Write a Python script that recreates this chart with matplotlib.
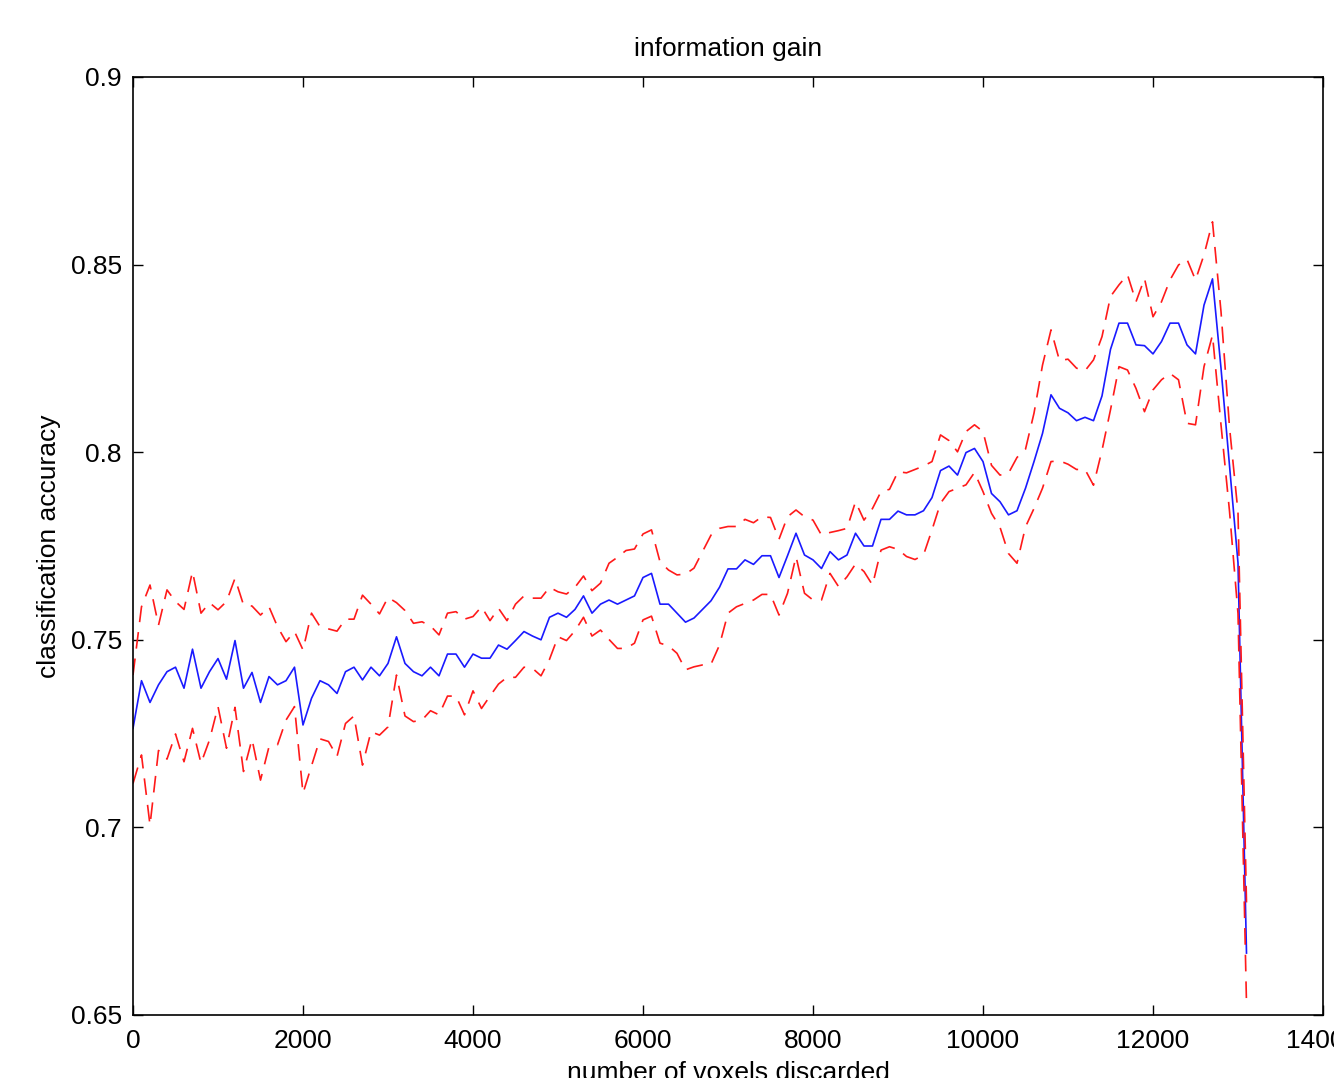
import numpy as np
import matplotlib
matplotlib.use("Agg")
import matplotlib.pyplot as plt
from matplotlib.ticker import FixedLocator, FuncFormatter

plt.rcParams['font.family'] = ['Liberation Sans', 'DejaVu Sans']

# x grid: number of voxels discarded (step of 100)
voxels_discarded = np.arange(0, 13101, 100)

mean_accuracy = [
    0.7264, 0.7391, 0.7333, 0.7380, 0.7415, 0.7427, 0.7371, 0.7475, 0.7371, 0.7415,
    0.7450, 0.7395, 0.7498, 0.7371, 0.7413, 0.7333, 0.7402, 0.7380, 0.7391, 0.7427,
    0.7273, 0.7344, 0.7391, 0.7380, 0.7357, 0.7415, 0.7427, 0.7393, 0.7427, 0.7404,
    0.7437, 0.7508, 0.7437, 0.7415, 0.7404, 0.7427, 0.7404, 0.7462, 0.7462, 0.7427,
    0.7462, 0.7451, 0.7451, 0.7486, 0.7475, 0.7498, 0.7522, 0.7510, 0.7500, 0.7560,
    0.7571, 0.7560, 0.7581, 0.7617, 0.7571, 0.7595, 0.7606, 0.7595, 0.7606, 0.7617,
    0.7666, 0.7677, 0.7595, 0.7595, 0.7571, 0.7547, 0.7558, 0.7581, 0.7604, 0.7640,
    0.7689, 0.7689, 0.7713, 0.7701, 0.7724, 0.7724, 0.7666, 0.7724, 0.7784, 0.7726,
    0.7713, 0.7690, 0.7735, 0.7713, 0.7726, 0.7784, 0.7750, 0.7750, 0.7821, 0.7821,
    0.7843, 0.7833, 0.7833, 0.7844, 0.7879, 0.7951, 0.7963, 0.7939, 0.7999, 0.8010,
    0.7975, 0.7890, 0.7868, 0.7833, 0.7844, 0.7904, 0.7975, 0.8050, 0.8153, 0.8117,
    0.8105, 0.8084, 0.8093, 0.8084, 0.8150, 0.8274, 0.8344, 0.8344, 0.8286, 0.8284,
    0.8262, 0.8295, 0.8344, 0.8344, 0.8286, 0.8262, 0.8392, 0.8462, 0.8224, 0.7966,
    0.7705, 0.6665,
]

upper_bound = [
    0.7406, 0.7588, 0.7646, 0.7539, 0.7633, 0.7602, 0.7581, 0.7682, 0.7571, 0.7599,
    0.7580, 0.7602, 0.7664, 0.7593, 0.7590, 0.7566, 0.7588, 0.7535, 0.7495, 0.7522,
    0.7473, 0.7571, 0.7535, 0.7529, 0.7523, 0.7555, 0.7555, 0.7619, 0.7595, 0.7569,
    0.7613, 0.7599, 0.7578, 0.7544, 0.7548, 0.7537, 0.7513, 0.7571, 0.7575, 0.7555,
    0.7562, 0.7588, 0.7551, 0.7584, 0.7551, 0.7595, 0.7617, 0.7611, 0.7611, 0.7640,
    0.7628, 0.7622, 0.7640, 0.7670, 0.7631, 0.7651, 0.7704, 0.7720, 0.7738, 0.7742,
    0.7782, 0.7793, 0.7708, 0.7686, 0.7673, 0.7675, 0.7691, 0.7735, 0.7779, 0.7797,
    0.7802, 0.7802, 0.7821, 0.7812, 0.7828, 0.7826, 0.7768, 0.7828, 0.7846, 0.7828,
    0.7819, 0.7779, 0.7786, 0.7791, 0.7797, 0.7868, 0.7819, 0.7850, 0.7895, 0.7901,
    0.7948, 0.7945, 0.7954, 0.7963, 0.7975, 0.8046, 0.8031, 0.8001, 0.8055, 0.8073,
    0.8055, 0.7965, 0.7939, 0.7944, 0.7986, 0.8008, 0.8104, 0.8232, 0.8326, 0.8244,
    0.8248, 0.8224, 0.8217, 0.8246, 0.8308, 0.8415, 0.8446, 0.8473, 0.8401, 0.8463,
    0.8361, 0.8401, 0.8459, 0.8499, 0.8514, 0.8459, 0.8526, 0.8614, 0.8375, 0.8067,
    0.7840, 0.6800,
]

lower_bound = [
    0.7117, 0.7193, 0.7006, 0.7205, 0.7182, 0.7249, 0.7175, 0.7264, 0.7171, 0.7233,
    0.7322, 0.7211, 0.7320, 0.7149, 0.7235, 0.7126, 0.7215, 0.7220, 0.7286, 0.7322,
    0.7091, 0.7164, 0.7236, 0.7229, 0.7189, 0.7277, 0.7297, 0.7166, 0.7255, 0.7246,
    0.7268, 0.7406, 0.7297, 0.7282, 0.7286, 0.7311, 0.7300, 0.7350, 0.7350, 0.7300,
    0.7364, 0.7317, 0.7350, 0.7382, 0.7400, 0.7400, 0.7427, 0.7424, 0.7404, 0.7448,
    0.7508, 0.7498, 0.7524, 0.7560, 0.7510, 0.7526, 0.7501, 0.7477, 0.7477, 0.7491,
    0.7553, 0.7563, 0.7491, 0.7484, 0.7464, 0.7420, 0.7428, 0.7433, 0.7435, 0.7486,
    0.7571, 0.7588, 0.7597, 0.7606, 0.7621, 0.7621, 0.7566, 0.7624, 0.7722, 0.7624,
    0.7606, 0.7606, 0.7677, 0.7642, 0.7668, 0.7702, 0.7682, 0.7646, 0.7739, 0.7748,
    0.7741, 0.7722, 0.7714, 0.7726, 0.7793, 0.7864, 0.7895, 0.7904, 0.7913, 0.7946,
    0.7895, 0.7837, 0.7800, 0.7730, 0.7704, 0.7801, 0.7850, 0.7904, 0.7975, 0.7977,
    0.7968, 0.7954, 0.7954, 0.7912, 0.8005, 0.8113, 0.8228, 0.8219, 0.8170, 0.8108,
    0.8166, 0.8193, 0.8210, 0.8193, 0.8077, 0.8073, 0.8228, 0.8312, 0.8073, 0.7843,
    0.7570, 0.6530,
]

x_ticks = [0, 2000, 4000, 6000, 8000, 10000, 12000, 14000]
y_ticks = [0.65, 0.7, 0.75, 0.8, 0.85, 0.9]

W, H = 1334, 1078
fig = plt.figure(figsize=(W / 100, H / 100), dpi=100)
ax = fig.add_axes([133 / W, (H - 1015) / H, (1323 - 133) / W, (1015 - 77) / H])

ax.plot(voxels_discarded, mean_accuracy, color='#1a1aff', linewidth=1.2)
lu, = ax.plot(voxels_discarded, upper_bound, color='#ff1a1a', linewidth=1.2, linestyle='--')
ll, = ax.plot(voxels_discarded, lower_bound, color='#ff1a1a', linewidth=1.2, linestyle='--')
for ln in (lu, ll):
    ln.set_dashes([10, 6])

ax.set_xlim(0, 14000)
ax.set_ylim(0.65, 0.9)
ax.xaxis.set_major_locator(FixedLocator(x_ticks))
ax.yaxis.set_major_locator(FixedLocator(y_ticks))
ax.yaxis.set_major_formatter(FuncFormatter(lambda v, p: ('%g' % v)))
ax.xaxis.set_major_formatter(FuncFormatter(lambda v, p: ('%d' % v)))
ax.tick_params(direction='in', length=7, width=1.0, top=True, right=True,
               labelsize=19, colors='black')
ax.tick_params(axis='x', pad=10)
ax.tick_params(axis='y', pad=8)
for s in ax.spines.values():
    s.set_linewidth(1.2)

ax.set_title('information gain', fontsize=19, pad=15)
ax.set_xlabel('number of voxels discarded', fontsize=19, labelpad=6)
ax.set_ylabel('classification accuracy', fontsize=19, labelpad=7)

fig.savefig('out.png', dpi=100)
